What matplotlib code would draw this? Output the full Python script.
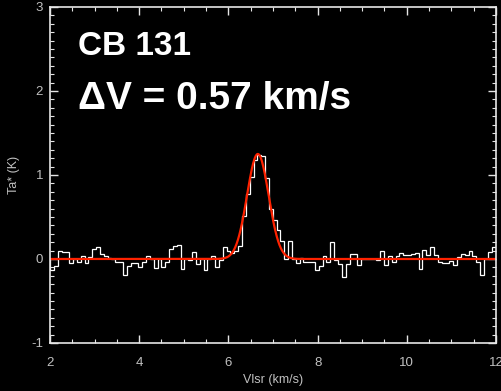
import numpy as np
import matplotlib
matplotlib.use("Agg")
import matplotlib.pyplot as plt
from matplotlib.ticker import MultipleLocator

plt.rcParams["axes.unicode_minus"] = False
plt.rcParams["font.family"] = ["Liberation Sans", "DejaVu Sans"]

# spectrum: antenna temperature per channel (K)
v_start = 2.0
dv = 0.0861
ta = [-0.13, -0.08, 0.10, 0.08, 0.08, -0.05, 0.00, -0.04, 0.04, -0.05,
      0.02, 0.12, 0.14, 0.06, 0.04, 0.01, 0.00, -0.03, -0.03, -0.19,
      -0.08, -0.05, -0.05, -0.10, -0.04, 0.04, 0.00, -0.11, 0.00, -0.10,
      -0.03, 0.12, 0.15, 0.17, -0.12, 0.00, -0.01, 0.08, -0.06, 0.00,
      -0.13, 0.00, 0.03, -0.09, -0.01, 0.14, 0.10, 0.07, 0.09, 0.15,
      0.51, 0.77, 0.98, 1.18, 1.24, 1.23, 0.97, 0.59, 0.46, 0.35,
      0.21, 0.00, 0.21, 0.00, -0.05, 0.01, -0.03, -0.03, -0.03, -0.13,
      -0.08, 0.03, -0.04, 0.20, -0.01, -0.06, -0.21, -0.06, 0.06, 0.06,
      -0.07, 0.00, 0.00, 0.00, 0.00, -0.01, 0.09, -0.07, 0.03, -0.03,
      0.03, 0.07, 0.05, 0.05, 0.06, 0.07, -0.12, 0.11, 0.05, 0.14,
      0.05, -0.03, -0.05, -0.05, -0.02, -0.07, 0.02, 0.06, 0.05, 0.09,
      0.03, -0.04, -0.19, 0.00, 0.08, 0.14, 0.14]

# gaussian fit
fit_amp = 1.25
fit_v0 = 6.66
fit_fwhm = 0.57

source = "CB 131"

edges = v_start + dv * np.arange(len(ta) + 1)
sigma = fit_fwhm / (2 * np.sqrt(2 * np.log(2)))
vfit = np.linspace(2, 12, 1000)
tfit = fit_amp * np.exp(-0.5 * ((vfit - fit_v0) / sigma) ** 2)

grey = "#c0c0c0"
fig = plt.figure(figsize=(5.01, 3.91), dpi=100, facecolor="black")
ax = fig.add_axes([0.0998, 0.1228, 0.8902, 0.8593], facecolor="black")

ax.stairs(ta, edges, color="white", lw=0.9)
ax.plot(vfit, tfit, color="#ff2200", lw=1.6)

ax.set_xlim(2, 12)
ax.set_ylim(-1, 3)
ax.xaxis.set_major_locator(MultipleLocator(2))
ax.xaxis.set_minor_locator(MultipleLocator(0.5))
ax.yaxis.set_major_locator(MultipleLocator(1))
ax.yaxis.set_minor_locator(MultipleLocator(0.1))

for s in ax.spines.values():
    s.set_color("#e6e6e6")
    s.set_linewidth(1.2)
ax.tick_params(which="both", direction="in", top=True, right=True,
               colors="#e6e6e6", labelcolor=grey, labelsize=9.5)
ax.tick_params(which="major", length=6, width=1)
ax.tick_params(which="minor", length=3, width=0.8)
ax.tick_params(axis="x", pad=10)
ax.tick_params(axis="y", pad=5)

ax.set_xlabel("Vlsr (km/s)", color=grey, fontsize=9, labelpad=4)
ax.set_ylabel("Ta* (K)", color=grey, fontsize=9, labelpad=8)

ax.text(0.063, 0.93, source, transform=ax.transAxes, color="white",
        fontsize=24, fontweight="bold", va="top")
ax.text(0.063, 0.78, "\u0394V = %.2f km/s" % fit_fwhm, transform=ax.transAxes,
        color="white", fontsize=28, fontweight="bold", va="top")

fig.savefig("out.png", dpi=100, facecolor="black")
